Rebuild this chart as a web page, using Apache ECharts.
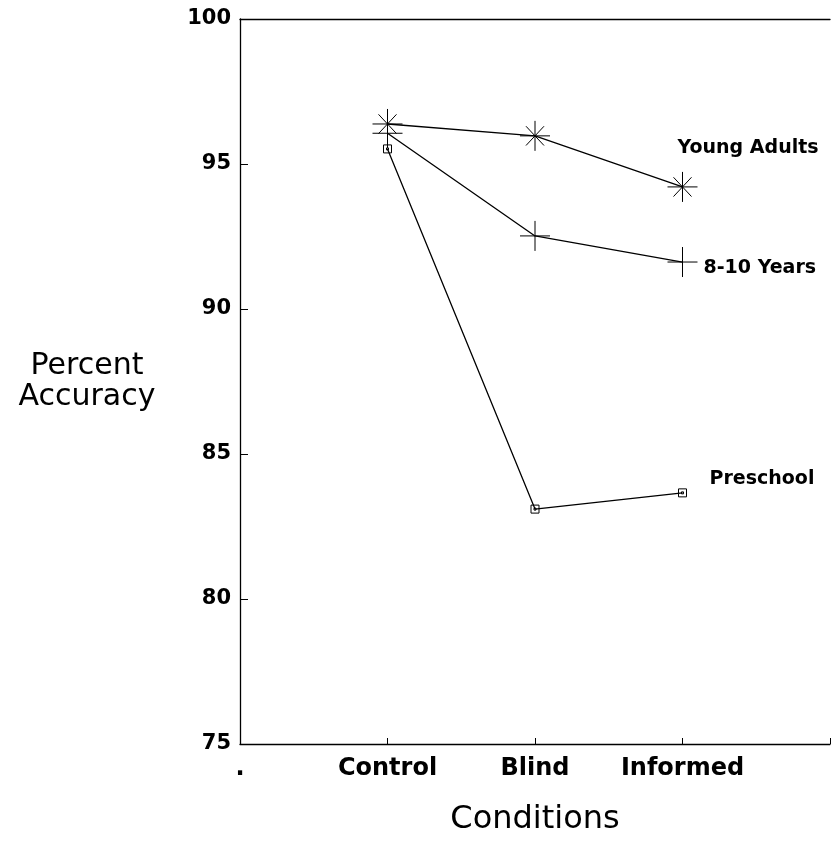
<!DOCTYPE html>
<html><head><meta charset="utf-8">
<script src="https://cdn.jsdelivr.net/npm/echarts@6/dist/echarts.min.js"></script>
<style>html,body{margin:0;padding:0;background:#fff}#c{width:833px;height:843px}</style>
</head><body><div id="c"></div>
<script>
const categories = ['.', 'Control', 'Blind', 'Informed', ''];
const youngAdults = [null, 96.38, 95.97, 94.21, null];
const years8to10 = [null, 96.06, 92.52, 91.62, null];
const preschool = [null, 95.52, 83.10, 83.66, null];
const seriesNames = ['Young Adults', '8-10 Years', 'Preschool'];
const yTicks = [75, 80, 85, 90, 95, 100];

const FONT = 'DejaVu Sans';
const asterisk = 'path://M0,-14L0,14M-15,0L15,0M-9,-9L9,9M-9,9L9,-9';
const plus = 'path://M0,-14L0,14M-15,0L15,0';
const square = 'path://M-4,-4L4,-4L4,4L-4,4ZM-1,-1L1,-1L1,1L-1,1Z';

const chart = echarts.init(document.getElementById('c'), null, {renderer: 'canvas'});
function mk(name, data, symbol, size, offset) {
  return {
    name, type: 'line', data, symbol, symbolSize: size, connectNulls: false,
    lineStyle: {color: '#000', width: 1.3},
    itemStyle: {color: 'none', borderColor: '#000', borderWidth: 1},
    emphasis: {disabled: true}, animation: false,
    endLabel: {show: true, formatter: '{a}', distance: 0, offset, align: 'left', verticalAlign: 'middle',
      fontFamily: FONT, fontWeight: 'bold', fontSize: 19, color: '#000'}
  };
}
chart.setOption({
  animation: false,
  grid: {left: 240, right: -1, top: 19, bottom: 99, containLabel: false},
  xAxis: [{
    type: 'category', data: categories, boundaryGap: false,
    axisLine: {lineStyle: {color: '#000', width: 1.3}},
    axisTick: {show: true, inside: true, length: 6, lineStyle: {color: '#000'}, interval: 0},
    axisLabel: {margin: 13, color: '#000', fontFamily: FONT, fontWeight: 'bold', fontSize: 24, interval: 0},
    name: 'Conditions', nameLocation: 'middle', nameGap: 60,
    nameTextStyle: {fontFamily: FONT, fontSize: 32, color: '#000'}
  }, {
    type: 'category', data: categories, boundaryGap: false, position: 'top',
    axisLine: {lineStyle: {color: '#000', width: 1.3}}, axisTick: {show: false}, axisLabel: {show: false}
  }],
  yAxis: {
    type: 'value', min: 75, max: 100, interval: 5,
    axisLine: {show: true, lineStyle: {color: '#000', width: 1.3}},
    axisTick: {show: true, inside: true, length: 8, lineStyle: {color: '#000'}},
    splitLine: {show: false},
    axisLabel: {margin: 9, color: '#000', fontFamily: FONT, fontWeight: 'bold', fontSize: 21,
      formatter: v => yTicks.includes(v) ? String(v) : ''},
    name: 'Percent\nAccuracy', nameLocation: 'middle', nameGap: 153, nameRotate: 0,
    nameTextStyle: {fontFamily: FONT, fontSize: 30, color: '#000', align: 'center', lineHeight: 31, padding: [12, 0, 0, 0]}
  },
  series: [
    mk(seriesNames[0], youngAdults, asterisk, 30, [-5, -39]),
    mk(seriesNames[1], years8to10, plus, 30, [21, 6]),
    mk(seriesNames[2], preschool, square, 8, [27, -14])
  ]
});
</script></body></html>
